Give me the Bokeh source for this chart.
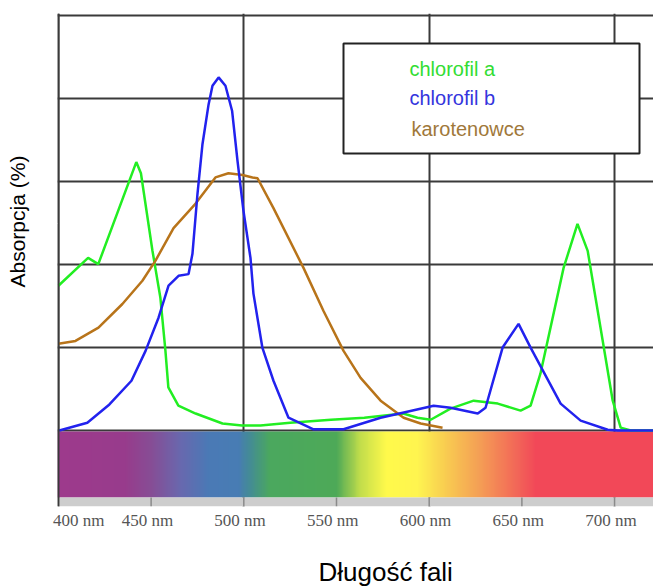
import numpy as np
from bokeh.plotting import figure
from bokeh.models import Range1d, FixedTicker, Label, BoxAnnotation, Span, Title, LinearAxis
from bokeh.embed import file_html
from bokeh.resources import INLINE

# ---------------- data ----------------
wavelength_ticks = [400, 450, 500, 550, 600, 650, 700]
tick_labels = ["400 nm", "450 nm", "500 nm", "550 nm", "600 nm", "650 nm", "700 nm"]
grid_wl = [400, 500, 600, 700]
grid_abs = [0, 20, 40, 60, 80, 100]

series_names = ["chlorofil a", "chlorofil b", "karotenowce"]

chl_a_wl = [400, 416, 421.5, 442, 444.5, 450.7, 455, 457.7, 459.3, 464.7, 474, 488.5,
            499, 509, 525, 547, 565, 586, 593.7, 600.8, 611.5, 624, 637, 649.3,
            654.7, 660, 672.5, 680, 685.5, 699, 703.3, 708.7, 721]
chl_a_abs = [34.9, 41.6, 40.1, 64.7, 62.0, 43.4, 32.0, 19.3, 10.4, 6.0, 4.1, 1.7,
             1.2, 1.2, 1.9, 2.6, 3.1, 4.1, 3.1, 2.6, 5.3, 7.2, 6.5, 4.8,
             6.0, 13.7, 39.2, 49.8, 43.3, 7.2, 0.7, 0.0, 0.0]

chl_b_wl = [400.5, 415.6, 427.5, 439.4, 447, 454, 459.4, 464.8, 470.2, 472.3, 475,
            477.7, 481, 483.1, 486.4, 490.1, 493.7, 496.6, 499.8, 503.6, 505.2, 510,
            516, 524.1, 537.6, 553.8, 573.8, 602.4, 611.5, 626.2, 630.4, 639.6,
            648.2, 654.7, 670.9, 681.7, 696.3, 701.7, 721]
chl_b_abs = [0.0, 1.9, 6.3, 12.0, 19.2, 27.2, 34.9, 37.3, 37.7, 42.6, 57.0,
             69.0, 78.6, 83.1, 85.1, 83.1, 77.0, 65.0, 53.0, 41.6, 33.0, 20.0,
             12.0, 3.1, 0.3, 0.3, 3.1, 6.0, 5.5, 4.1, 5.5, 20.0,
             25.7, 20.0, 6.5, 2.4, 0.2, 0.0, 0.0]

car_wl = [400, 409.2, 421.6, 434.5, 445.3, 452.3, 462.1, 474, 484.7, 491.7, 499.3,
          504.7, 507.4, 516, 532.2, 543, 553.8, 563, 573.8, 586.2, 595.4, 607.2]
car_abs = [20.9, 21.6, 24.8, 30.5, 36.1, 40.9, 48.8, 54.7, 61.0, 62.0, 61.6,
           61.0, 60.8, 53.6, 39.2, 28.8, 19.2, 12.7, 7.2, 3.1, 1.7, 0.7]

# colour stops of the visible-spectrum strip
spectrum_wl = [400, 436, 450, 466, 481, 497, 503, 514, 550, 563, 577, 594, 605, 625, 645, 658, 721]
spectrum_rgb = [(158, 58, 140), (152, 60, 140), (135, 78, 150), (105, 105, 175),
                (75, 122, 182), (72, 125, 180), (68, 140, 150), (75, 168, 95),
                (78, 170, 88), (195, 222, 75), (255, 250, 75), (255, 245, 80),
                (250, 215, 80), (245, 165, 85), (243, 110, 88), (242, 72, 88),
                (242, 72, 88)]

# ---------------- layout ----------------
W, H = 653, 587
BL, BR, BT, BB = 57, 0, 13, 81
X0, X1 = 399.5, 721.0
Y0, Y1 = -18.3, 100.5
FW, FH = W - BL - BR, H - BT - BB


def px_x(px):
    return X0 + (px - BL) * (X1 - X0) / FW


def px_y(py):
    return Y1 - (py - BT) * (Y1 - Y0) / FH


p = figure(width=W, height=H, x_range=Range1d(X0, X1), y_range=Range1d(Y0, Y1),
           output_backend="svg", toolbar_location=None,
           min_border_left=BL, min_border_right=BR, min_border_top=BT, min_border_bottom=BB)
p.outline_line_color = None
p.background_fill_color = "white"
p.border_fill_color = "white"

GRID = "#3a3a3a"
p.xgrid.ticker = FixedTicker(ticks=grid_wl)
p.ygrid.ticker = FixedTicker(ticks=grid_abs)
for g in (p.xgrid, p.ygrid):
    g.grid_line_color = GRID
    g.grid_line_width = 2
    g.grid_line_alpha = 1.0

# y axis hidden (title drawn as a Title on the left)
p.yaxis.visible = False

# x axis: tick labels only
label_shift = [11.0] + [-2.0] * (len(wavelength_ticks) - 1)
label_pos = [t + s for t, s in zip(wavelength_ticks, label_shift)]
ax = p.xaxis[0]
ax.ticker = FixedTicker(ticks=label_pos)
ax.major_label_overrides = {pos: lab for pos, lab in zip(label_pos, tick_labels)}
ax.axis_line_color = None
ax.major_tick_line_color = None
ax.minor_tick_line_color = None
ax.major_tick_in = 0
ax.major_tick_out = 0
ax.major_label_standoff = 4
ax.major_label_text_font = "Liberation Serif"
ax.major_label_text_font_size = "17px"
ax.major_label_text_color = "#555555"


def spacer(size, at):
    # blank axis (white tick on white border, empty label) that only reserves room
    return LinearAxis(ticker=FixedTicker(ticks=[at]), major_label_overrides={at: ""},
                      axis_line_color=None, major_tick_line_color="white",
                      minor_tick_line_color=None, major_tick_in=0, major_tick_out=size,
                      major_label_standoff=0, major_label_text_font_size="1px")


# spectrum strip
spec_top = px_y(431)
band_top = px_y(497)
ncol = 643
xs = np.linspace(X0, X1, ncol)
img = np.empty((1, ncol), dtype=np.uint32)
view = img.view(dtype=np.uint8).reshape((1, ncol, 4))
for k in range(3):
    view[0, :, k] = np.interp(xs, spectrum_wl, [c[k] for c in spectrum_rgb]).astype(np.uint8)
view[0, :, 3] = 255
p.image_rgba(image=[img], x=X0, y=band_top, dw=X1 - X0, dh=spec_top - band_top)

# grey scale band below the strip
p.quad(left=[X0], right=[X1], bottom=[Y0], top=[band_top], fill_color="#cdcdcd", line_color=None)
p.segment(x0=wavelength_ticks[1:], x1=wavelength_ticks[1:], y0=[Y0] * 6, y1=[band_top] * 6,
          line_color="#8a8a8a", line_width=1.5)

# curves
p.line(chl_a_wl, chl_a_abs, line_color="#22ee22", line_width=2.5)
p.line(car_wl, car_abs, line_color="#b8741a", line_width=2.5)
p.line(chl_b_wl, chl_b_abs, line_color="#2222ee", line_width=2.5)

# left border
p.add_layout(Span(location=400, dimension="height", line_color=GRID, line_width=2))

# legend box
p.add_layout(BoxAnnotation(left=px_x(343), right=px_x(639), top=px_y(43), bottom=px_y(153),
                           fill_color="white", fill_alpha=1.0, line_color="#222222",
                           line_width=2, line_alpha=1.0))
leg_colors = ["#33dd33", "#3535dd", "#a0783a"]
leg_y = [68, 97, 128]
leg_x = [409, 409, 411]
for name, col, lx, ly in zip(series_names, leg_colors, leg_x, leg_y):
    p.add_layout(Label(x=px_x(lx), y=px_y(ly), text=name, text_color=col,
                       text_font="Liberation Sans", text_font_size="20px",
                       text_baseline="middle", text_align="left"))

# axis titles (with blank spacer axes to push them outwards)
p.add_layout(spacer(21, 560), "below")
p.add_layout(Title(text="Długość fali", align="left", offset=318 - BL, standoff=2,
                   vertical_align="bottom",
                   text_font="Liberation Sans", text_font_size="26px",
                   text_font_style="normal", text_color="black"), "below")
p.add_layout(spacer(22, 50), "left")
p.add_layout(Title(text="Absorpcja (%)", align="left", offset=(H - BB) - 287, standoff=10,
                   vertical_align="top",
                   text_font="Liberation Sans", text_font_size="21px",
                   text_font_style="normal", text_color="black"), "left")

open("out.html", "w").write(file_html(p, INLINE))
